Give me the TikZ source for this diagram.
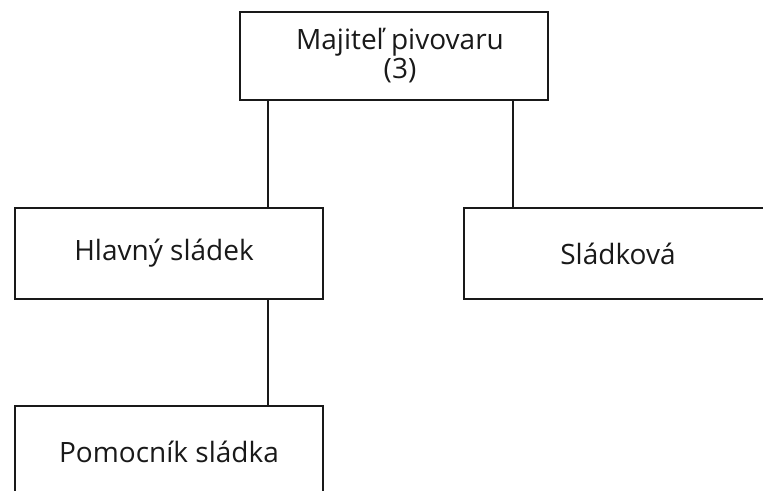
\documentclass[tikz,border=0pt]{standalone}
\usepackage{fontspec}
\setmainfont{Open Sans}
\begin{document}
\begin{tikzpicture}[x=1pt,y=-1pt,
  box/.style={draw=black!90, line width=2pt, minimum width=308pt, inner sep=0pt,
    font=\fontsize{28}{29}\selectfont, align=center, text=black!90},
  conn/.style={draw=black!90, line width=2pt}]
\useasboundingbox (0,0) rectangle (763,490);
\clip (0,0) rectangle (763,490);
\node[box, minimum height=88pt] (top) at (394,56) {\hspace*{12pt}Majiteľ pivovaru\\\hspace*{12pt}(3)};
\node[box, minimum height=91pt] (hl) at (169,253.5) {Hlavný sládek\hspace*{10pt}};
\node[box, minimum height=91pt] (sl) at (618,253.5) {Sládková};
\node[box, minimum height=91pt] (po) at (169,451.5) {Pomocník sládka};
\coordinate (c1) at (268,0);
\coordinate (c2) at (512.5,0);
\draw[conn] (top.south -| c1) -- (hl.north -| c1);
\draw[conn] (top.south -| c2) -- (sl.north -| c2);
\draw[conn] (hl.south -| c1) -- (po.north -| c1);
\end{tikzpicture}
\end{document}
